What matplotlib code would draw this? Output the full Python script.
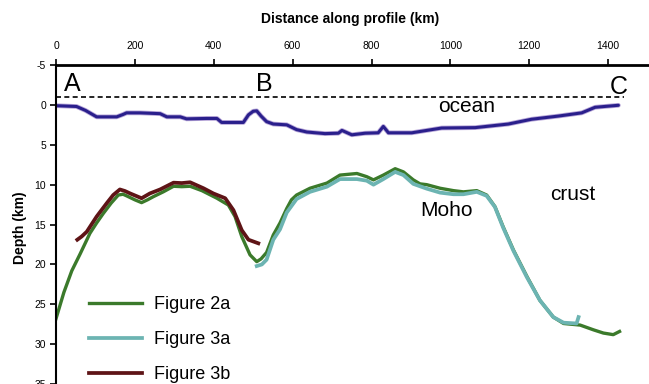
import matplotlib.pyplot as plt

plt.rcParams['font.family'] = ['Liberation Sans', 'DejaVu Sans']
plt.rcParams['axes.unicode_minus'] = False

# ---------------------------------------------------------------------
# Data (distance km, depth km)
# ---------------------------------------------------------------------
sea_x = [0, 52, 75, 103, 154, 170, 179, 213, 264, 281, 315, 331, 382, 408, 420,
         475, 488, 500, 509, 520, 534, 551, 585, 610, 636, 682, 716, 725, 750,
         784, 817, 830, 843, 902, 978, 1063, 1147, 1206, 1274, 1333, 1367, 1426]
sea_d = [0.1, 0.2, 0.7, 1.5, 1.5, 1.2, 1.0, 1.0, 1.1, 1.5, 1.5, 1.75, 1.7, 1.7, 2.2,
         2.2, 1.25, 0.8, 0.75, 1.4, 2.1, 2.4, 2.5, 3.1, 3.4, 3.6, 3.55, 3.2, 3.75,
         3.55, 3.5, 2.7, 3.5, 3.5, 2.9, 2.85, 2.4, 1.8, 1.4, 1.0, 0.3, 0.05]

fig2a_x = [0, 20, 40, 61, 86, 103, 120, 140, 158, 170, 179, 200, 217, 232, 247,
           272, 298, 319, 340, 370, 408, 437, 454, 471, 492, 509, 520, 534, 551,
           568, 585, 597, 610, 644, 687, 720, 763, 788, 805, 830, 860, 881, 906,
           923, 940, 974, 1008, 1033, 1067, 1092, 1113, 1134, 1160, 1194, 1227,
           1261, 1287, 1329, 1363, 1388, 1413, 1429]
fig2a_d = [26.8, 23.5, 20.8, 18.7, 16.1, 14.8, 13.6, 12.3, 11.3, 11.2, 11.4, 11.9,
           12.25, 11.9, 11.5, 10.9, 10.2, 10.25, 10.2, 10.75, 11.7, 12.55, 14.0,
           16.5, 18.8, 19.65, 19.3, 18.5, 16.3, 14.8, 13.0, 11.9, 11.3, 10.45, 9.8,
           8.8, 8.6, 9.0, 9.4, 8.8, 8.0, 8.4, 9.4, 9.9, 10.0, 10.45, 10.75, 10.9,
           10.75, 11.3, 12.75, 15.3, 18.2, 21.5, 24.5, 26.6, 27.4, 27.6, 28.2, 28.6,
           28.8, 28.4]

fig3a_x = [509, 522, 534, 551, 568, 585, 610, 644, 687, 720, 763, 788, 805, 830,
           860, 881, 906, 940, 974, 1008, 1033, 1067, 1092, 1113, 1134, 1160, 1194,
           1227, 1261, 1287, 1320, 1325]
fig3a_d = [20.2, 20.0, 19.4, 16.9, 15.6, 13.5, 11.8, 10.9, 10.25, 9.3, 9.3, 9.5,
           10.0, 9.3, 8.4, 8.8, 9.9, 10.5, 11.0, 11.2, 11.2, 10.9, 11.4, 12.8, 15.4,
           18.3, 21.6, 24.5, 26.6, 27.3, 27.4, 26.6]

fig3b_x = [54, 65, 78, 103, 129, 145, 162, 175, 188, 217, 238, 264, 298, 319, 340,
           374, 399, 429, 450, 471, 488, 513]
fig3b_d = [16.9, 16.5, 15.9, 14.0, 12.3, 11.3, 10.6, 10.8, 11.1, 11.7, 11.1, 10.6,
           9.75, 9.8, 9.7, 10.45, 11.1, 11.7, 13.2, 15.7, 16.9, 17.35]

sea_level_x = [0, 1440]
sea_level_d = [-1, -1]

# ---------------------------------------------------------------------
# Plot
# ---------------------------------------------------------------------
W, H = 649, 384
fig = plt.figure(figsize=(W / 100, H / 100), dpi=100)

# axes run past the bottom and right edges, like the cropped original
left, right, top, bottom = 56, 687, 65, 424
ax = fig.add_axes([left / W, 1 - bottom / H, (right - left) / W, (bottom - top) / H])

ax.plot(sea_level_x, sea_level_d, color='black', linestyle=(0, (3, 2)), linewidth=1.2)
ax.plot(sea_x, sea_d, color='#b7a6d8', linewidth=3.4, solid_capstyle='round')
ax.plot(sea_x, sea_d, color='#2a1f8c', linewidth=2.2, solid_capstyle='round')
ax.plot(fig2a_x, fig2a_d, color='#3b7a2b', linewidth=2.4, label='Figure 2a')
ax.plot(fig3a_x, fig3a_d, color='#6cb4b2', linewidth=2.7, label='Figure 3a')
ax.plot(fig3b_x, fig3b_d, color='#5e1416', linewidth=2.7, label='Figure 3b')

ax.set_xlim(0, 1600)
ax.set_ylim(40, -5)
ax.set_xticks(range(0, 1401, 200))
ax.set_yticks(range(-5, 41, 5))

ax.xaxis.tick_top()
ax.tick_params(axis='x', direction='out', length=4, width=1.2, pad=6, labelsize=7.5)
ax.tick_params(axis='y', direction='out', length=4, width=1.2, pad=3, labelsize=7.5)
for side in ['bottom', 'right']:
    ax.spines[side].set_visible(False)
ax.spines['top'].set_linewidth(2)
ax.spines['left'].set_linewidth(1.5)

# point labels and region names
ax.text(40, -2.6, 'A', fontsize=18, ha='center', va='center')
ax.text(527, -2.6, 'B', fontsize=18, ha='center', va='center')
ax.text(1428, -2.2, 'C', fontsize=18, ha='center', va='center')
ax.text(1040, 0.2, 'ocean', fontsize=15, ha='center', va='center')
ax.text(1310, 11.2, 'crust', fontsize=15, ha='center', va='center')
ax.text(990, 13.3, 'Moho', fontsize=15, ha='center', va='center')

fig.text(350 / W, 1 - 19 / H, 'Distance along profile (km)', fontsize=10,
         fontweight='bold', ha='center', va='center')
fig.text(20 / W, 1 - 228 / H, 'Depth (km)', fontsize=10, fontweight='bold',
         rotation=90, ha='center', va='center')

ax.legend(loc='upper left', bbox_to_anchor=(26 / (right - left), 1 - (289 - top) / (bottom - top)),
          frameon=False, fontsize=13, handlelength=2.9, handletextpad=0.7,
          labelspacing=1.0, borderaxespad=0)

fig.savefig('out.png', dpi=100)
